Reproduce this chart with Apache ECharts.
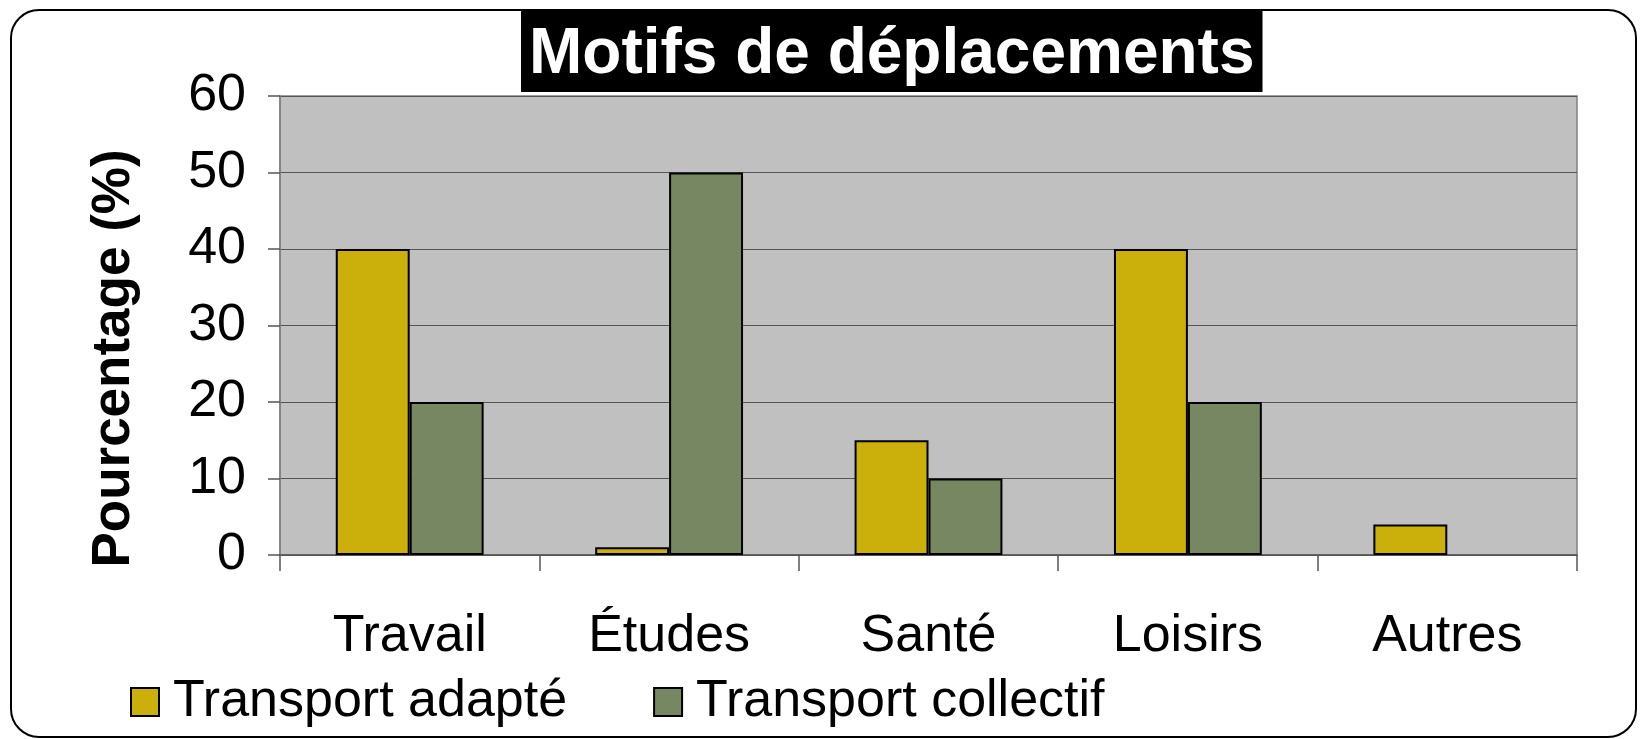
<!DOCTYPE html>
<html>
<head>
<meta charset="utf-8">
<script src="https://cdn.jsdelivr.net/npm/echarts@6/dist/echarts.min.js"></script>
<style>
  html, body { margin: 0; padding: 0; background: #fff; }
  #chart { width: 1640px; height: 739px; }
</style>
</head>
<body>
<div id="chart"></div>
<script>
// motifs de déplacement, en %
const categories = ["Travail", "Études", "Santé", "Loisirs", "Autres"];
const seriesNames = ["Transport adapté", "Transport collectif"];
const adapte = [40, 1, 15, 40, 4];
const collectif = [20, 50, 10, 20, 0];

const font = "'Liberation Sans', Arial, sans-serif";

// pas de contour pour une barre à 0
function toItems(values) {
  return values.map(function (v) {
    return v === 0 ? { value: v, itemStyle: { borderWidth: 0 } } : v;
  });
}

let myChart = echarts.init(document.getElementById("chart"));

let option = {
  animation: false,
  textStyle: { fontFamily: font },
  title: {
    text: "Motifs de déplacements",
    left: 521,
    top: 10,
    backgroundColor: "#000",
    padding: [9, 8, 1, 8],
    textStyle: {
      color: "#fff",
      fontSize: 64,
      fontWeight: "bold",
      lineHeight: 72,
      fontFamily: font,
    },
  },
  legend: {
    data: seriesNames,
    left: 125,
    top: 671,
    itemWidth: 28,
    itemHeight: 28,
    itemGap: 86,
    icon: "rect",
    itemStyle: { borderColor: "#000", borderWidth: 2 },
    textStyle: {
      fontSize: 52,
      color: "#000",
      fontFamily: font,
      padding: [0, 0, 0, 9],
    },
  },
  grid: {
    left: 280,
    right: 63,
    top: 96,
    bottom: 184,
    show: true,
    backgroundColor: "#c0c0c0",
    borderColor: "#808080",
    borderWidth: 1.5,
  },
  xAxis: {
    type: "category",
    data: categories,
    axisLine: { lineStyle: { color: "#555", width: 1.5 } },
    axisTick: { show: true, length: 16, lineStyle: { color: "#555", width: 1.5 } },
    axisLabel: { fontSize: 52, color: "#000", margin: 56, fontFamily: font },
  },
  yAxis: {
    type: "value",
    min: 0,
    max: 60,
    interval: 10,
    name: "Pourcentage (%)",
    nameLocation: "middle",
    nameRotate: 90,
    nameGap: 139,
    nameTextStyle: {
      fontSize: 53,
      fontWeight: "bold",
      color: "#000",
      fontFamily: font,
      padding: [0, 66, 0, 0],
    },
    axisLine: { show: true, lineStyle: { color: "#808080", width: 1.5 } },
    axisTick: { show: true, length: 12, lineStyle: { color: "#555", width: 1.5 } },
    axisLabel: { fontSize: 52, color: "#000", margin: 34, fontFamily: font },
    splitLine: { lineStyle: { color: "#555", width: 1.2 } },
  },
  series: [
    {
      name: seriesNames[0],
      type: "bar",
      data: toItems(adapte),
      barGap: "0%",
      barCategoryGap: "43%",
      itemStyle: { color: "#cbaf0b", borderColor: "#000", borderWidth: 2 },
    },
    {
      name: seriesNames[1],
      type: "bar",
      data: toItems(collectif),
      itemStyle: { color: "#778762", borderColor: "#000", borderWidth: 2 },
    },
  ],
  graphic: [
    {
      type: "rect",
      z: -10,
      shape: { x: 11, y: 10, width: 1625, height: 727, r: 28 },
      style: { fill: "none", stroke: "#000", lineWidth: 2 },
    },
  ],
};

myChart.setOption(option);
</script>
</body>
</html>
